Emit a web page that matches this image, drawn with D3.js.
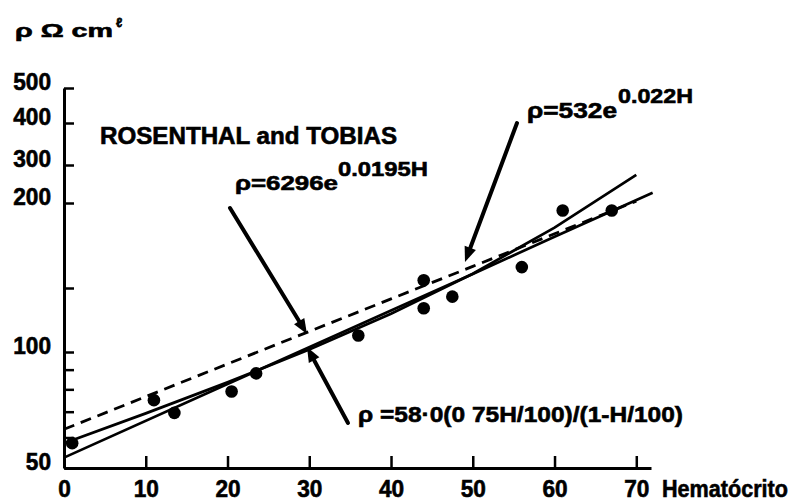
<!DOCTYPE html>
<html>
<head>
<meta charset="utf-8">
<script src="https://cdn.jsdelivr.net/npm/d3@7"></script>
<style>
  body { margin: 0; background: #fff; }
  svg { display: block; }
  text { font-family: 'Liberation Sans', Arial, sans-serif; font-weight: bold; fill: #000; stroke: #000; stroke-width: 0.6px; }
</style>
</head>
<body>
<script>
// values
const hematocritTicks = [0, 10, 20, 30, 40, 50, 60, 70];
const rhoTicks = [50, 100, 200, 300, 400, 500];
const rhoMinorTicks = [60, 70, 80, 90, 150];

// measured samples
const sampleH = [1, 11, 13.5, 20.5, 23.5, 36, 44, 44, 47.5, 56, 61, 67];
const sampleRho = [58, 75, 69.5, 79, 88, 111, 132, 154, 142, 161, 195, 195];

// rho = 58.0(1+0.75H/100)/(1-H/100)
const maxwellH = [0, 10, 20, 30, 40, 50, 60, 70];
const maxwellRho = [58, 69.3, 83.4, 101.6, 127.4, 157.4, 184, 270];

// rho = 53.2 e^0.022H
const expH = [0, 20, 40, 50, 60, 72];
const expRho = [53.2, 82.6, 130.1, 157.3, 178.4, 223];

// Rosenthal and Tobias, rho = 62.96 e^0.0195H (dashed)
const rosenH = [0, 20, 40, 50, 60, 70];
const rosenRho = [63, 93.1, 140, 161.4, 180.2, 204];

const width = 806;
const height = 504;

const svg = d3.select('body')
  .append('svg')
    .attr('width', width)
    .attr('height', height);

const x = d3.scaleLinear().domain([0, 71.8]).range([64, 651]);
// the printed axis is uneven above 100, so the log scale is piecewise
const y = d3.scaleLog()
  .domain([50, 100, 150, 200, 300, 400, 500])
  .range([468, 352, 288, 203, 165, 123, 88]);

// y axis
const yAxis = d3.axisLeft(y)
  .tickValues(rhoTicks.concat(rhoMinorTicks))
  .tickFormat(d => rhoTicks.includes(d) ? d : '')
  .tickSizeInner(-10)
  .tickSizeOuter(0)
  .tickPadding(13);

const gy = svg.append('g')
  .attr('transform', `translate(${x(0)},0)`)
  .call(yAxis);

// x axis
const xAxis = d3.axisBottom(x)
  .tickValues(hematocritTicks)
  .tickSizeInner(-12)
  .tickSizeOuter(0)
  .tickPadding(0);

const gx = svg.append('g')
  .attr('transform', `translate(0,${y(50)})`)
  .call(xAxis);

[gx, gy].forEach(g => {
  g.select('.domain').attr('stroke-width', 3);
  g.selectAll('.tick line').attr('stroke-width', 2.5);
  g.selectAll('text')
    .style('font-size', '24px')
    .attr('font-family', null)
    .attr('fill', '#000')
    .attr('lengthAdjust', 'spacingAndGlyphs')
    .attr('textLength', function() { return this.textContent.length * 12.6 || null; });
});
gy.selectAll('text').attr('dy', '0.05em');
gx.selectAll('text').attr('y', 29).attr('dy', null);

svg.append('text')
  .attr('x', 662).attr('y', 497)
  .attr('textLength', 126).attr('lengthAdjust', 'spacingAndGlyphs')
  .style('font-size', '24px')
  .text('Hematócrito');

svg.append('text')
  .attr('x', 15).attr('y', 37)
  .attr('textLength', 98).attr('lengthAdjust', 'spacingAndGlyphs')
  .style('font-size', '19px')
  .text('ρ Ω cm');
svg.append('text')
  .attr('x', 116).attr('y', 27)
  .style('font-size', '13px')
  .text('ℓ');

// curves
const line = d3.line()
  .x(d => x(d[0]))
  .y(d => y(d[1]));

svg.append('path')
  .datum(d3.zip(rosenH, rosenRho))
  .attr('d', line)
  .attr('fill', 'none')
  .attr('stroke', '#000')
  .attr('stroke-width', 2.8)
  .attr('stroke-dasharray', '11,7');

svg.append('path')
  .datum(d3.zip(maxwellH, maxwellRho))
  .attr('d', line)
  .attr('fill', 'none')
  .attr('stroke', '#000')
  .attr('stroke-width', 2.7);

svg.append('path')
  .datum(d3.zip(expH, expRho))
  .attr('d', line)
  .attr('fill', 'none')
  .attr('stroke', '#000')
  .attr('stroke-width', 2.7);

svg.selectAll('.sample')
  .data(d3.zip(sampleH, sampleRho))
  .enter()
  .append('circle')
    .attr('class', 'sample')
    .attr('cx', d => x(d[0]))
    .attr('cy', d => y(d[1]))
    .attr('r', 6.3)
    .attr('fill', '#000');

// arrows
const arrow = (x1, y1, x2, y2) => {
  const a = Math.atan2(y2 - y1, x2 - x1);
  const len = 15, half = 6;
  const bx = x2 - len * Math.cos(a), by = y2 - len * Math.sin(a);
  svg.append('line')
    .attr('x1', x1).attr('y1', y1)
    .attr('x2', bx).attr('y2', by)
    .attr('stroke', '#000')
    .attr('stroke-width', 4)
    .attr('stroke-linecap', 'round');
  svg.append('path')
    .attr('d', `M${x2},${y2}L${bx - half * Math.sin(a)},${by + half * Math.cos(a)}L${bx + half * Math.sin(a)},${by - half * Math.cos(a)}Z`)
    .attr('fill', '#000');
};

arrow(230, 208, 307, 334);
arrow(348, 423, 307, 347);
arrow(517, 123, 465, 262);

// labels
const label = (tx, ty, size, len, s) => svg.append('text')
  .attr('x', tx).attr('y', ty)
  .attr('textLength', len).attr('lengthAdjust', 'spacingAndGlyphs')
  .style('font-size', size + 'px')
  .text(s);

label(100, 144, 23, 297, 'ROSENTHAL and TOBIAS');
label(235, 190, 21, 103, 'ρ=6296e');
label(338, 176, 21, 90, '0.0195H');
label(527, 118, 22, 90, 'ρ=532e');
label(618, 103, 20, 75, '0.022H');
label(358, 422, 22, 325, 'ρ =58·0(0 75H/100)/(1-H/100)');
</script>
</body>
</html>
